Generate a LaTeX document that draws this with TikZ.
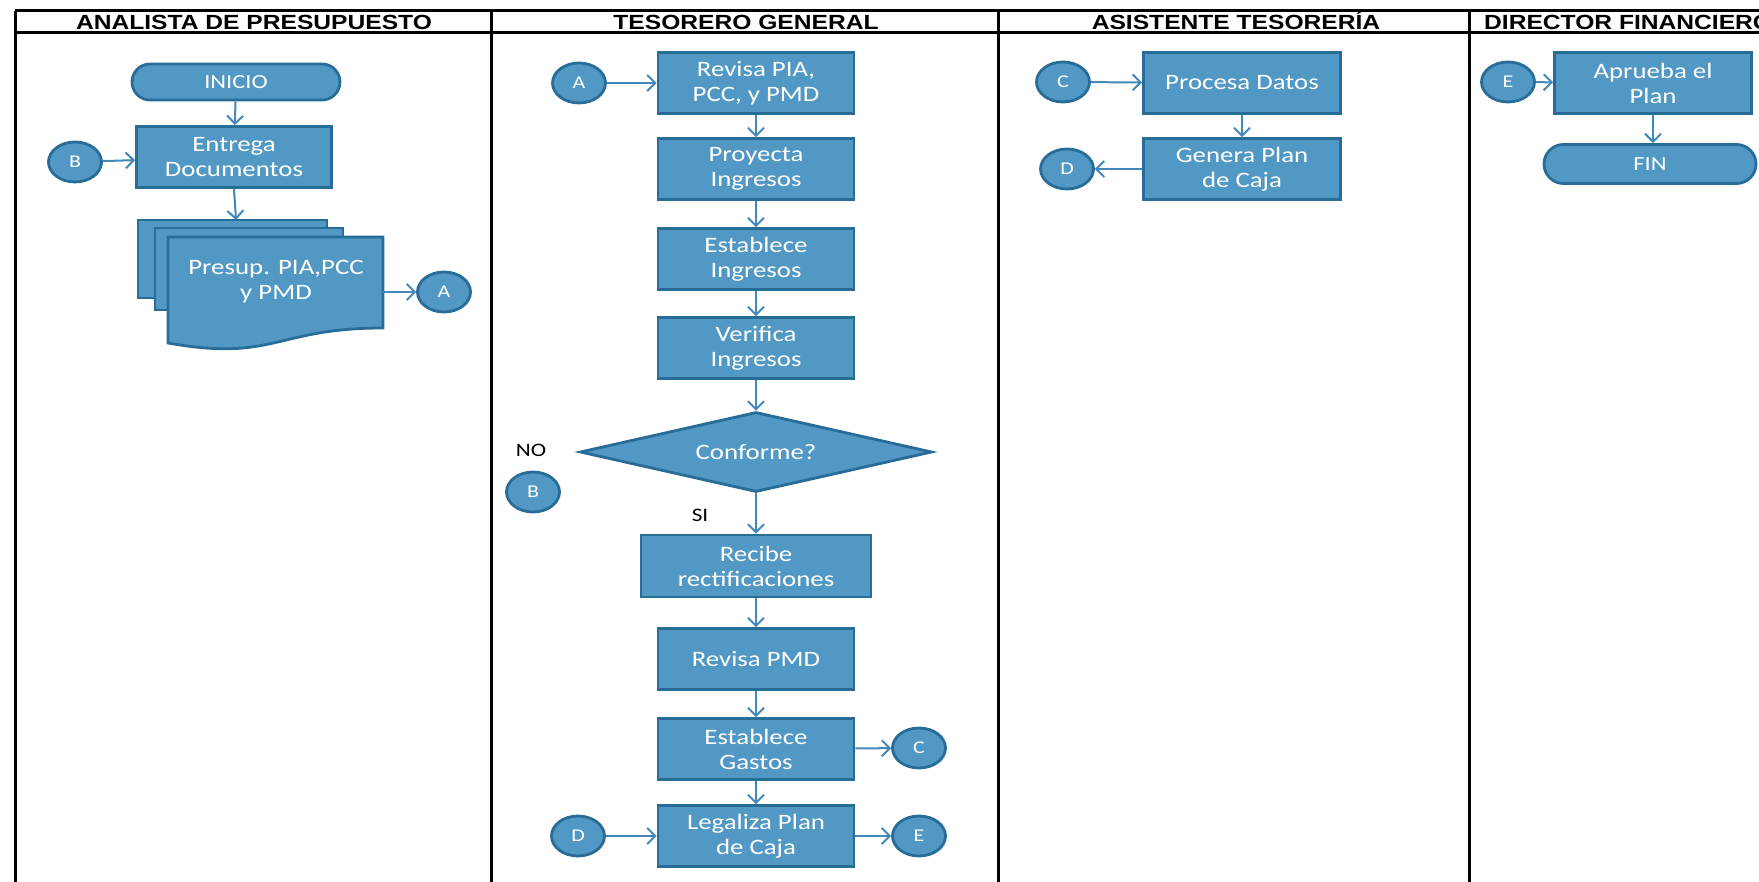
\documentclass[tikz,border=0pt]{standalone}
\usepackage{fontspec}
\setmainfont{Carlito}
\newfontfamily\boxfont[FakeStretch=1.22]{Carlito}
\newfontfamily\headfont[FakeStretch=1.2]{Liberation Sans}
\usetikzlibrary{shapes.geometric,shapes.misc,arrows.meta}
\definecolor{fillc}{RGB}{82,152,196}
\definecolor{bdr}{RGB}{40,108,152}
\definecolor{arr}{RGB}{66,136,186}
\tikzset{
  proc/.style={draw=bdr, line width=2.8pt, fill=fillc, text=white, minimum width=196, minimum height=61, inner sep=0pt, align=center, font=\boxfont\fontsize{22}{25}\selectfont},
  term/.style={rounded rectangle, draw=bdr, line width=2.8pt, fill=fillc, text=white, minimum width=208, minimum height=36, inner sep=0pt, font=\boxfont\fontsize{20}{24}\selectfont},
  conn/.style={ellipse, draw=bdr, line width=2.8pt, fill=fillc, text=white, minimum width=53, minimum height=40, inner sep=0pt, font=\boxfont\fontsize{18}{20}\selectfont},
  dec/.style={diamond, aspect=4.4, draw=bdr, line width=2.8pt, fill=fillc, text=white, minimum width=352, minimum height=80, inner sep=0pt, font=\boxfont\fontsize{22}{25}\selectfont},
  docsheet/.style={draw=bdr, line width=2.8pt, fill=fillc},
  flow/.style={draw=arr, line width=2pt, -{Straight Barb[length=8pt,width=16pt]}},
  lane/.style={draw=black, line width=3pt},
  lanehead/.style={font=\headfont\bfseries\fontsize{20.5}{22}\selectfont, inner sep=0pt, anchor=base},
  lbl/.style={font=\boxfont\fontsize{19}{22}\selectfont, inner sep=0pt}
}
\begin{document}
\begin{tikzpicture}[x=1pt,y=-1pt]
\useasboundingbox (0,0) rectangle (1759,882);
\clip (0,0) rectangle (1759,882);
\fill[white] (0,0) rectangle (1759,882);
% lanes
\draw[lane] (15,11) -- (1759,11);
\draw[lane] (15,33) -- (1759,33);
\draw[lane] (15,11) -- (15,882);
\draw[lane] (491,11) -- (491,882);
\draw[lane] (998,11) -- (998,882);
\draw[lane] (1469,11) -- (1469,882);
\node[lanehead] (h1) at (254,29.5) {ANALISTA DE PRESUPUESTO};
\node[lanehead] (h2) at (746,29.5) {TESORERO GENERAL};
\node[lanehead] (h3) at (1236,29.5) {ASISTENTE TESORERÍA};
\node[lanehead, anchor=base west] (h4) at (1484,29.5) {DIRECTOR FINANCIERO};

% lane 1
\node[term] (inicio) at (236,82) {INICIO};
\node[proc, minimum width=195] (entrega) at (234,157) {Entrega\\Documentos};
\node[conn] (b1) at (75,162) {B};
\draw[docsheet] (138,220) rectangle (327,298);
\draw[docsheet] (155,228) rectangle (343,310);
\draw[docsheet] (168,237) -- (383,237) -- (383,328) .. controls (275,328) and (275,362) .. (168,343) -- cycle;
\node[font=\boxfont\fontsize{22}{25}\selectfont, text=white, align=center, inner sep=0pt] (doc) at (276,282) {Presup. PIA,PCC\\y PMD};
\coordinate (docTop) at (236,220);
\coordinate (docR) at (383,292);
\node[conn] (a1) at (444,292) {A};
\draw[flow] (inicio) -- (entrega);
\draw[flow] (b1) -- (entrega);
\draw[flow] (entrega.south) -- (docTop);
\draw[flow] (docR) -- (a1);

% lane 2
\node[conn] (a2) at (579,83) {A};
\node[proc] (revisa) at (756,83) {Revisa PIA,\\PCC, y PMD};
\node[proc] (proyecta) at (756,169) {Proyecta\\Ingresos};
\node[proc] (estab) at (756,259) {Establece\\Ingresos};
\node[proc] (verif) at (756,348) {Verifica\\Ingresos};
\node[dec] (conf) at (756,452) {Conforme?};
\node[lbl] (no) at (531,450) {NO};
\node[conn] (b2) at (533,492) {B};
\node[lbl] (si) at (700,515) {SI};
\node[proc, minimum width=230, minimum height=62] (recibe) at (756,566) {Recibe\\rectificaciones};
\node[proc] (rpmd) at (756,659) {Revisa PMD};
\node[proc] (gastos) at (756,749) {Establece\\Gastos};
\node[conn] (c2) at (919,748) {C};
\node[proc] (legal) at (756,836) {Legaliza Plan\\de Caja};
\node[conn] (d2) at (578,836) {D};
\node[conn] (e2) at (919,836) {E};
\draw[flow] (a2) -- (revisa);
\draw[flow] (revisa) -- (proyecta);
\draw[flow] (proyecta) -- (estab);
\draw[flow] (estab) -- (verif);
\draw[flow] (verif) -- (conf);
\draw[flow] (conf) -- (recibe);
\draw[flow] (recibe) -- (rpmd);
\draw[flow] (rpmd) -- (gastos);
\draw[flow] (gastos) -- (legal);
\draw[flow] (gastos) -- (c2);
\draw[flow] (d2) -- (legal);
\draw[flow] (legal) -- (e2);

% lane 3
\node[conn] (c3) at (1063,82) {C};
\node[proc, minimum width=197] (procesa) at (1242,83) {Procesa Datos};
\node[proc, minimum width=197] (genera) at (1242,169) {Genera Plan\\de Caja};
\node[conn] (d3) at (1067,169) {D};
\draw[flow] (c3) -- (procesa);
\draw[flow] (procesa) -- (genera);
\draw[flow] (genera) -- (d3);

% lane 4
\node[conn] (e4) at (1508,82) {E};
\node[proc, minimum width=197] (aprueba) at (1653,83) {Aprueba el\\Plan};
\node[term, minimum width=212, minimum height=39] (fin) at (1650,164) {FIN};
\draw[flow] (e4) -- (aprueba);
\draw[flow] (aprueba.south) -- (aprueba.south |- fin.north);
\end{tikzpicture}
\end{document}
